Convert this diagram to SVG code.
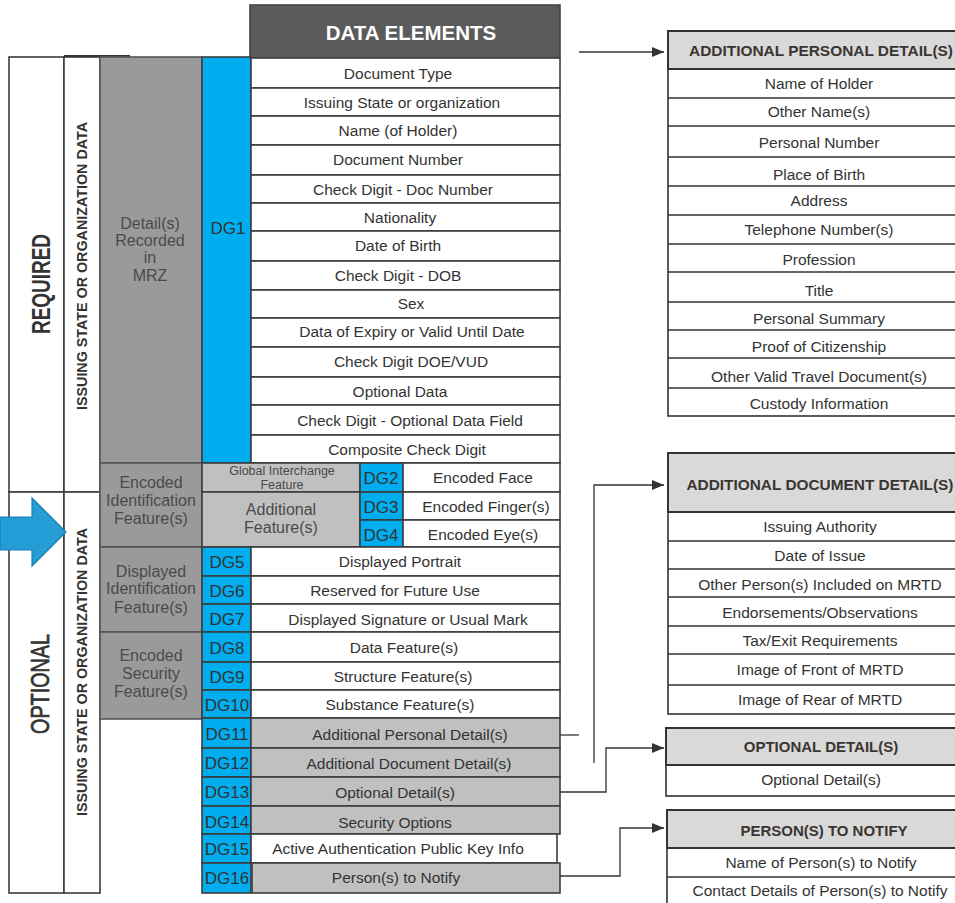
<svg xmlns="http://www.w3.org/2000/svg" width="955" height="903" viewBox="0 0 955 903">
<defs>
<style>
.t{font-family:"Liberation Sans",Arial,sans-serif;font-size:15.5px;fill:#333;text-anchor:middle}
.dg{font-family:"Liberation Sans",Arial,sans-serif;font-size:17px;fill:#333;text-anchor:middle}
.g{font-family:"Liberation Sans",Arial,sans-serif;font-size:16px;fill:#4a4a4a;text-anchor:middle}
.h{font-family:"Liberation Sans",Arial,sans-serif;font-size:15px;font-weight:bold;fill:#3a3530;text-anchor:middle}
.w{fill:#fff;stroke:#3c3c3c;stroke-width:1.6}
.lg{fill:#c0c0c1;stroke:#3c3c3c;stroke-width:1.6}
.b{fill:#00aeef;stroke:#3c3c3c;stroke-width:1.6}
.dk{fill:#9a9a9b;stroke:#555;stroke-width:1.6}
.ph{fill:#d9d9d9;stroke:#333;stroke-width:2}
.pr{fill:#fff;stroke:#333;stroke-width:1.6}
.c{fill:none;stroke:#333;stroke-width:1.3}
</style>
<marker id="ah" viewBox="0 0 12 10" refX="12" refY="5" markerWidth="12" markerHeight="10" markerUnits="userSpaceOnUse" orient="auto">
<path d="M0,0 L12,5 L0,10 Z" fill="#333"/>
</marker>
</defs>
<rect width="955" height="903" fill="#fff"/>

<g id="left-frame">
<rect x="9" y="57" width="55" height="435" class="w" stroke-width="2"/>
<rect x="9" y="492" width="55" height="401" class="w" stroke-width="2"/>
<rect x="64" y="57" width="36" height="435" class="w" stroke-width="2"/>
<rect x="64" y="492" width="36" height="401" class="w" stroke-width="2"/>
<line x1="64" y1="56" x2="130" y2="56" stroke="#333" stroke-width="2"/>
<text transform="translate(50,284) rotate(-90)" font-family="'Liberation Sans',Arial,sans-serif" font-size="26" font-weight="bold" fill="#333" text-anchor="middle" textLength="100" lengthAdjust="spacingAndGlyphs">REQUIRED</text>
<text transform="translate(49,684) rotate(-90)" font-family="'Liberation Sans',Arial,sans-serif" font-size="26" fill="#333" stroke="#333" stroke-width="0.7" text-anchor="middle" textLength="100" lengthAdjust="spacingAndGlyphs">OPTIONAL</text>
<text transform="translate(87,266) rotate(-90)" font-family="'Liberation Sans',Arial,sans-serif" font-size="14" font-weight="bold" fill="#333" text-anchor="middle" textLength="288" lengthAdjust="spacingAndGlyphs">ISSUING STATE OR ORGANIZATION DATA</text>
<text transform="translate(87,672) rotate(-90)" font-family="'Liberation Sans',Arial,sans-serif" font-size="14" font-weight="bold" fill="#333" text-anchor="middle" textLength="288" lengthAdjust="spacingAndGlyphs">ISSUING STATE OR ORGANIZATION DATA</text>
</g>

<g id="blue-arrow">
<path d="M0,517 H32 V498 L66,532 L32,566 V550 H0 Z" fill="#249cd6" stroke="#1b7fb1" stroke-width="1.2"/>
</g>

<g id="category-mrz">
<rect x="100" y="57" width="102" height="406" class="dk"/>
<text class="g" x="150" y="229">Detail(s)</text>
<text class="g" x="150" y="246">Recorded</text>
<text class="g" x="150" y="263">in</text>
<text class="g" x="150" y="281">MRZ</text>
</g>
<g id="category-encoded-id">
<rect x="100" y="463" width="102" height="84" class="dk" fill="#949494"/>
<text class="g" x="151" y="488">Encoded</text>
<text class="g" x="151" y="506">Identification</text>
<text class="g" x="151" y="524">Feature(s)</text>
</g>
<g id="category-displayed-id">
<rect x="100" y="547" width="102" height="85" class="dk" fill="#949494"/>
<text class="g" x="151" y="577">Displayed</text>
<text class="g" x="151" y="594">Identification</text>
<text class="g" x="151" y="613">Feature(s)</text>
</g>
<g id="category-encoded-sec">
<rect x="100" y="632" width="102" height="87" class="dk" fill="#949494"/>
<text class="g" x="151" y="661">Encoded</text>
<text class="g" x="151" y="679">Security</text>
<text class="g" x="151" y="697">Feature(s)</text>
</g>

<g id="header">
<rect x="250" y="5" width="310" height="53" fill="#5b5b5b" stroke="#444" stroke-width="1.6"/>
<text x="411" y="40" font-family="'Liberation Sans',Arial,sans-serif" font-size="20.5" font-weight="bold" fill="#fff" text-anchor="middle">DATA ELEMENTS</text>
</g>

<g id="dg1">
<rect x="202" y="57" width="49" height="406" class="b"/>
<text class="dg" x="228" y="234">DG1</text>
<rect x="251" y="58" width="309" height="30" class="w"/><text class="t" x="398" y="79">Document Type</text>
<rect x="251" y="88" width="309" height="28" class="w"/><text class="t" x="402" y="108">Issuing State or organization</text>
<rect x="251" y="116" width="309" height="29" class="w"/><text class="t" x="398" y="136">Name (of Holder)</text>
<rect x="251" y="145" width="309" height="30" class="w"/><text class="t" x="398" y="165">Document Number</text>
<rect x="251" y="175" width="309" height="28" class="w"/><text class="t" x="403" y="195">Check Digit - Doc Number</text>
<rect x="251" y="203" width="309" height="28" class="w"/><text class="t" x="400" y="223">Nationality</text>
<rect x="251" y="231" width="309" height="30" class="w"/><text class="t" x="398" y="251">Date of Birth</text>
<rect x="251" y="261" width="309" height="29" class="w"/><text class="t" x="398" y="281">Check Digit - DOB</text>
<rect x="251" y="290" width="309" height="28" class="w"/><text class="t" x="411" y="309">Sex</text>
<rect x="251" y="318" width="309" height="29" class="w"/><text class="t" x="412" y="337">Data of Expiry or Valid Until Date</text>
<rect x="251" y="347" width="309" height="30" class="w"/><text class="t" x="411" y="367">Check Digit DOE/VUD</text>
<rect x="251" y="377" width="309" height="28" class="w"/><text class="t" x="400" y="397">Optional Data</text>
<rect x="251" y="405" width="309" height="30" class="w"/><text class="t" x="410" y="426">Check Digit - Optional Data Field</text>
<rect x="251" y="435" width="309" height="28" class="w"/><text class="t" x="407" y="455">Composite Check Digit</text>
</g>

<g id="global-interchange">
<rect x="202" y="463" width="158" height="29" class="lg"/>
<text x="282" y="475" font-family="'Liberation Sans',Arial,sans-serif" font-size="12.5" fill="#4a4a4a" text-anchor="middle">Global Interchange</text>
<text x="282" y="489" font-family="'Liberation Sans',Arial,sans-serif" font-size="12.5" fill="#4a4a4a" text-anchor="middle">Feature</text>
</g>
<g id="additional-feature">
<rect x="202" y="492" width="158" height="55" class="lg"/>
<text class="g" x="281" y="515">Additional</text>
<text class="g" x="281" y="533">Feature(s)</text>
</g>

<g id="dg2"><rect x="360" y="463" width="43" height="29" class="b"/><text class="dg" x="381" y="484">DG2</text>
<rect x="403" y="463" width="157" height="29" class="w"/><text class="t" x="483" y="483">Encoded Face</text></g>
<g id="dg3"><rect x="360" y="492" width="43" height="28" class="b"/><text class="dg" x="381" y="513">DG3</text>
<rect x="403" y="492" width="157" height="28" class="w"/><text class="t" x="486" y="512">Encoded Finger(s)</text></g>
<g id="dg4"><rect x="360" y="520" width="43" height="27" class="b"/><text class="dg" x="381" y="541">DG4</text>
<rect x="403" y="520" width="157" height="27" class="w"/><text class="t" x="483" y="540">Encoded Eye(s)</text></g>

<g id="dg5"><rect x="202" y="547" width="49" height="29" class="b"/><text class="dg" x="227" y="568">DG5</text>
<rect x="251" y="547" width="309" height="29" class="w"/><text class="t" x="400" y="567">Displayed Portrait</text></g>
<g id="dg6"><rect x="202" y="576" width="49" height="28" class="b"/><text class="dg" x="227" y="597">DG6</text>
<rect x="251" y="576" width="309" height="28" class="w"/><text class="t" x="395" y="596">Reserved for Future Use</text></g>
<g id="dg7"><rect x="202" y="604" width="49" height="28" class="b"/><text class="dg" x="227" y="625">DG7</text>
<rect x="251" y="604" width="309" height="28" class="w"/><text class="t" x="408" y="625">Displayed Signature or Usual Mark</text></g>
<g id="dg8"><rect x="202" y="632" width="49" height="30" class="b"/><text class="dg" x="227" y="654">DG8</text>
<rect x="251" y="632" width="309" height="30" class="w"/><text class="t" x="404" y="653">Data Feature(s)</text></g>
<g id="dg9"><rect x="202" y="662" width="49" height="28" class="b"/><text class="dg" x="227" y="683">DG9</text>
<rect x="251" y="662" width="309" height="28" class="w"/><text class="t" x="403" y="682">Structure Feature(s)</text></g>
<g id="dg10"><rect x="202" y="690" width="49" height="28" class="b"/><text class="dg" x="227" y="711">DG10</text>
<rect x="251" y="690" width="309" height="28" class="w"/><text class="t" x="400" y="710">Substance Feature(s)</text></g>
<g id="dg11"><rect x="202" y="718" width="49" height="30" class="b"/><text class="dg" x="227" y="740">DG11</text>
<rect x="251" y="718" width="309" height="30" class="lg"/><text class="t" x="410" y="740">Additional Personal Detail(s)</text></g>
<g id="dg12"><rect x="202" y="748" width="49" height="29" class="b"/><text class="dg" x="227" y="769">DG12</text>
<rect x="251" y="748" width="309" height="29" class="lg"/><text class="t" x="409" y="769">Additional Document Detail(s)</text></g>
<g id="dg13"><rect x="202" y="777" width="49" height="29" class="b"/><text class="dg" x="227" y="798">DG13</text>
<rect x="251" y="777" width="309" height="29" class="lg"/><text class="t" x="395" y="798">Optional Detail(s)</text></g>
<g id="dg14"><rect x="202" y="806" width="49" height="28" class="b"/><text class="dg" x="227" y="828">DG14</text>
<rect x="251" y="806" width="309" height="28" class="lg"/><text class="t" x="395" y="828">Security Options</text></g>
<g id="dg15"><rect x="202" y="834" width="49" height="29" class="b"/><text class="dg" x="227" y="855">DG15</text>
<rect x="251" y="834" width="306" height="29" class="w" stroke-width="2.4"/><text class="t" x="398" y="854">Active Authentication Public Key Info</text></g>
<g id="dg16"><rect x="202" y="863" width="49" height="30" class="b"/><text class="dg" x="227" y="884">DG16</text>
<rect x="252" y="863" width="308" height="30" class="lg"/><text class="t" x="396" y="883">Person(s) to Notify</text></g>

<g id="panel-personal">
<rect x="668" y="31" width="310" height="385" class="pr"/>
<rect x="668" y="31" width="310" height="38" class="ph"/>
<text class="h" x="821" y="56" textLength="264" lengthAdjust="spacingAndGlyphs">ADDITIONAL PERSONAL DETAIL(S)</text>
<path d="M668,98 H978 M668,126 H978 M668,157 H978 M668,186 H978 M668,215 H978 M668,244 H978 M668,272 H978 M668,302 H978 M668,330 H978 M668,358 H978 M668,388 H978" stroke="#333" stroke-width="1.6"/>
<text class="t" x="819" y="89">Name of Holder</text>
<text class="t" x="819" y="117">Other Name(s)</text>
<text class="t" x="819" y="148">Personal Number</text>
<text class="t" x="819" y="180">Place of Birth</text>
<text class="t" x="819" y="206">Address</text>
<text class="t" x="819" y="235">Telephone Number(s)</text>
<text class="t" x="819" y="265">Profession</text>
<text class="t" x="819" y="296">Title</text>
<text class="t" x="819" y="324">Personal Summary</text>
<text class="t" x="819" y="352">Proof of Citizenship</text>
<text class="t" x="819" y="382">Other Valid Travel Document(s)</text>
<text class="t" x="819" y="409">Custody Information</text>
</g>

<g id="panel-document">
<rect x="668" y="453" width="310" height="261" class="pr"/>
<rect x="668" y="453" width="310" height="59" class="ph"/>
<text class="h" x="820" y="490" textLength="267" lengthAdjust="spacingAndGlyphs">ADDITIONAL DOCUMENT DETAIL(S)</text>
<path d="M668,541 H978 M668,569 H978 M668,597 H978 M668,626 H978 M668,654 H978 M668,685 H978" stroke="#333" stroke-width="1.6"/>
<text class="t" x="820" y="532">Issuing Authority</text>
<text class="t" x="820" y="561">Date of Issue</text>
<text class="t" x="820" y="590">Other Person(s) Included on MRTD</text>
<text class="t" x="820" y="618">Endorsements/Observations</text>
<text class="t" x="820" y="646">Tax/Exit Requirements</text>
<text class="t" x="820" y="675">Image of Front of MRTD</text>
<text class="t" x="820" y="705">Image of Rear of MRTD</text>
</g>

<g id="panel-optional">
<rect x="666" y="728" width="312" height="68" class="pr"/>
<rect x="666" y="728" width="312" height="37" class="ph"/>
<text class="h" x="821" y="752">OPTIONAL DETAIL(S)</text>
<text class="t" x="821" y="785">Optional Detail(s)</text>
</g>

<g id="panel-notify">
<rect x="667" y="810" width="311" height="100" class="pr"/>
<rect x="667" y="810" width="311" height="38" class="ph"/>
<text class="h" x="824" y="836">PERSON(S) TO NOTIFY</text>
<path d="M667,877 H978" stroke="#333" stroke-width="1.6"/>
<text class="t" x="821" y="868">Name of Person(s) to Notify</text>
<text class="t" x="820" y="896">Contact Details of Person(s) to Notify</text>
</g>

<g id="connectors">
<path class="c" d="M579,52 H664" marker-end="url(#ah)"/>
<path class="c" d="M560,735 H579"/>
<path class="c" d="M594,763 V485 H664" marker-end="url(#ah)"/>
<path class="c" d="M560,792 H606 V748 H664" marker-end="url(#ah)"/>
<path class="c" d="M560,876 H620 V828 H664" marker-end="url(#ah)"/>
</g>
</svg>
